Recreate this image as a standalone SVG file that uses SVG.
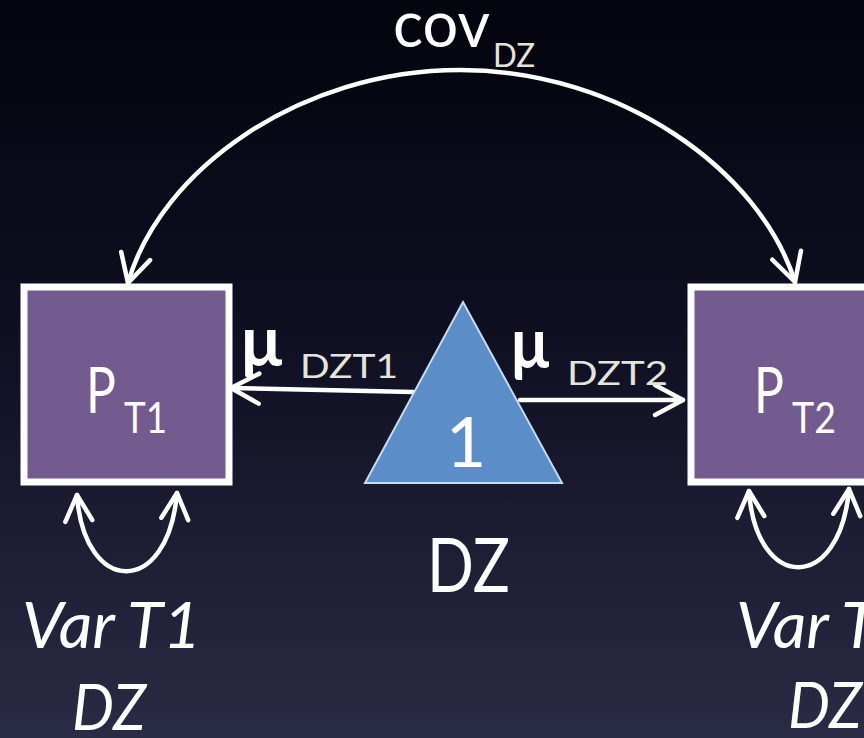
<svg xmlns="http://www.w3.org/2000/svg" width="864" height="738" viewBox="0 0 864 738">
  <defs>
    <linearGradient id="bg" x1="0" y1="0" x2="0" y2="1">
      <stop offset="0" stop-color="#04040e"/>
      <stop offset="0.45" stop-color="#0f0f22"/>
      <stop offset="1" stop-color="#2a2b44"/>
    </linearGradient>
    <marker id="chev" markerUnits="userSpaceOnUse" markerWidth="40" markerHeight="40" viewBox="-34 -20 40 40" refX="0" refY="0" orient="auto-start-reverse" overflow="visible">
      <path d="M-28,-15 L0,0 L-28,15" fill="none" stroke="#ffffff" stroke-width="4.5" stroke-linecap="round" stroke-linejoin="round"/>
    </marker>
    <marker id="chevS" markerUnits="userSpaceOnUse" markerWidth="40" markerHeight="40" viewBox="-34 -20 40 40" refX="0" refY="0" orient="auto-start-reverse" overflow="visible">
      <path d="M-26,-13.5 L0,0 L-26,13.5" fill="none" stroke="#ffffff" stroke-width="4.5" stroke-linecap="round" stroke-linejoin="round"/>
    </marker>
  </defs>
  <style>
    .lbl { font-family: Lato, "Open Sans", "Liberation Sans", sans-serif; fill: #ffffff; }
    .sub { fill: #e4e4dc; }
    .it { font-style: italic; }
    .box { fill: #735b8f; stroke: #ffffff; stroke-width: 7; }
    .tri { fill: #5b8ec8; stroke: #c9d9ee; stroke-width: 2; }
    .edge { fill: none; stroke: #ffffff; stroke-width: 4.5; stroke-linecap: round; }
  </style>

  <rect x="0" y="0" width="864" height="738" fill="url(#bg)"/>

  <!-- connectors -->
  <g id="connectors">
    <!-- covariance between twins -->
    <path class="edge" d="M128,283 C160,170 300,70 460,70 C620,70 760,170 795,282" marker-start="url(#chev)" marker-end="url(#chev)"/>
    <!-- means from the constant -->
    <path class="edge" d="M413,392 L231,388" marker-end="url(#chev)"/>
    <path class="edge" d="M520,400 L683,400" marker-end="url(#chev)"/>
    <!-- variances -->
    <path class="edge" d="M77,495 C84,596 168,598 177,493" marker-start="url(#chevS)" marker-end="url(#chevS)"/>
    <path class="edge" d="M749,491 C756,592 840,594 849,489" marker-start="url(#chevS)" marker-end="url(#chevS)"/>
  </g>

  <!-- edge labels -->
  <g id="labels">
    <text class="lbl" x="393" y="47" font-size="63" textLength="97" lengthAdjust="spacingAndGlyphs">cov</text>
    <text class="lbl sub" x="493" y="67" font-size="33" textLength="42" lengthAdjust="spacingAndGlyphs">DZ</text>

    <text class="lbl" x="241" y="366" font-size="70" font-weight="bold" textLength="41" lengthAdjust="spacingAndGlyphs">μ</text>
    <text class="lbl sub" x="300" y="378" font-size="32" textLength="98" lengthAdjust="spacingAndGlyphs">DZT1</text>

    <text class="lbl" x="511" y="368" font-size="70" font-weight="bold" textLength="38" lengthAdjust="spacingAndGlyphs">μ</text>
    <text class="lbl sub" x="567" y="385" font-size="32" textLength="101" lengthAdjust="spacingAndGlyphs">DZT2</text>

    <text class="lbl it" x="22" y="648" font-size="64" textLength="179" lengthAdjust="spacingAndGlyphs">Var T1</text>
    <text class="lbl it" x="72" y="730" font-size="64" textLength="74" lengthAdjust="spacingAndGlyphs">DZ</text>

    <text class="lbl it" x="736" y="648" font-size="64" textLength="179" lengthAdjust="spacingAndGlyphs">Var T2</text>
    <text class="lbl it" x="788" y="728" font-size="64" textLength="74" lengthAdjust="spacingAndGlyphs">DZ</text>
  </g>

  <!-- twin 1 phenotype -->
  <g id="pt1">
    <rect class="box" x="24" y="287" width="205" height="195"/>
    <text class="lbl" x="86" y="413" font-size="64" textLength="30" lengthAdjust="spacingAndGlyphs">P</text>
    <text class="lbl" x="124" y="433" font-size="43" textLength="43" lengthAdjust="spacingAndGlyphs">T1</text>
  </g>

  <!-- twin 2 phenotype -->
  <g id="pt2">
    <rect class="box" x="691" y="287" width="220" height="195"/>
    <text class="lbl" x="754" y="413" font-size="64" textLength="30" lengthAdjust="spacingAndGlyphs">P</text>
    <text class="lbl" x="792" y="433" font-size="43" textLength="44" lengthAdjust="spacingAndGlyphs">T2</text>
  </g>

  <!-- constant for the means -->
  <g id="constant">
    <polygon class="tri" points="463,302 562,483 365,483"/>
    <text class="lbl" x="466" y="467" font-size="70" text-anchor="middle">1</text>
  </g>

  <!-- group label -->
  <g id="group">
    <text class="lbl" x="427" y="592" font-size="75" textLength="83" lengthAdjust="spacingAndGlyphs">DZ</text>
  </g>
</svg>
